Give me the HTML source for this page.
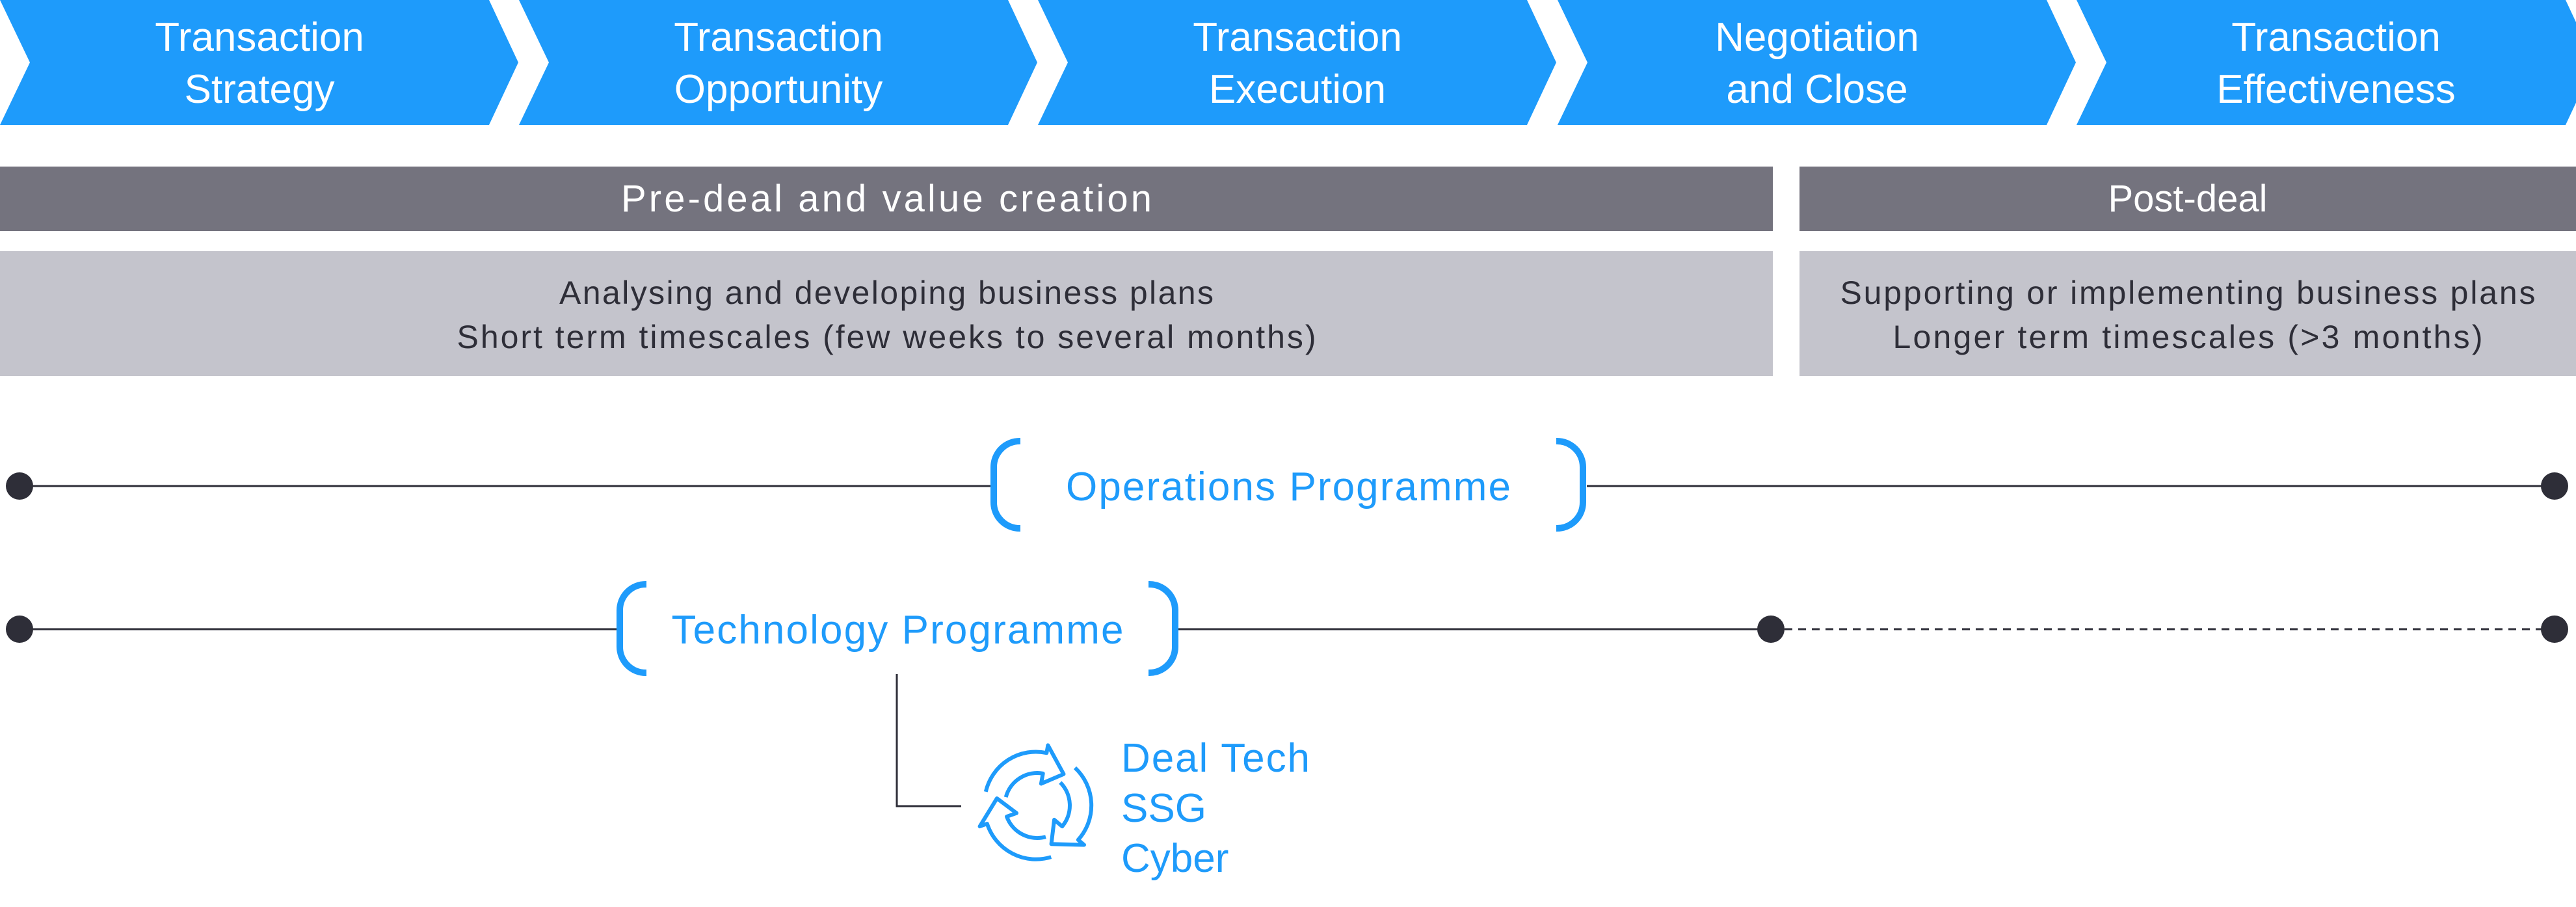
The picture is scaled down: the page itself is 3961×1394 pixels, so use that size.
<!DOCTYPE html>
<html><head><meta charset="utf-8"><style>
html,body{margin:0;padding:0;background:#fff;}
svg{display:block;}
text{font-family:"Liberation Sans",sans-serif;}
</style></head><body>
<svg width="3961" height="1394" viewBox="0 0 3961 1394" xmlns="http://www.w3.org/2000/svg">
<defs>
<polygon id="chev" points="0,0 752,0 797,96 752,192 0,192 46,96" fill="#1e9bfb"/>
</defs>
<use href="#chev" x="0"/>
<use href="#chev" x="798"/>
<use href="#chev" x="1596"/>
<use href="#chev" x="2395"/>
<use href="#chev" x="3193"/>
<g fill="#fff" font-size="62" text-anchor="middle">
<text x="399" y="78">Transaction</text><text x="399" y="158">Strategy</text>
<text x="1197" y="78">Transaction</text><text x="1197" y="158">Opportunity</text>
<text x="1995" y="78">Transaction</text><text x="1995" y="158">Execution</text>
<text x="2794" y="78">Negotiation</text><text x="2794" y="158">and Close</text>
<text x="3592" y="78">Transaction</text><text x="3592" y="158">Effectiveness</text>
</g>
<rect x="0" y="256" width="2726" height="99" fill="#74737e"/>
<rect x="2767" y="256" width="1194" height="99" fill="#74737e"/>
<g fill="#fff" font-size="58" text-anchor="middle">
<text x="1363" y="325" textLength="816">Pre-deal and value creation</text>
<text x="3364" y="325">Post-deal</text>
</g>
<rect x="0" y="386" width="2726" height="192" fill="#c4c4cc"/>
<rect x="2767" y="386" width="1194" height="192" fill="#c4c4cc"/>
<g fill="#2e2e38" font-size="50" text-anchor="middle">
<text x="1363" y="467" textLength="1006">Analysing and developing business plans</text>
<text x="1363" y="535" textLength="1321">Short term timescales (few weeks to several months)</text>
<text x="3364" y="467" textLength="1069">Supporting or implementing business plans</text>
<text x="3364" y="535" textLength="907">Longer term timescales (&gt;3 months)</text>
</g>
<!-- timeline 1 -->
<line x1="30" y1="747" x2="1524" y2="747" stroke="#2e2e38" stroke-width="3"/>
<line x1="2440" y1="747" x2="3928" y2="747" stroke="#2e2e38" stroke-width="3"/>
<circle cx="30" cy="747" r="21" fill="#2e2e38"/>
<circle cx="3928" cy="747" r="21" fill="#2e2e38"/>
<g fill="none" stroke="#1e9bfb" stroke-width="10">
<path d="M1569,678 L1568,678 A40,40 0 0 0 1528,718 L1528,772 A40,40 0 0 0 1568,812 L1569,812"/>
<path d="M2393,678 L2394,678 A40,40 0 0 1 2434,718 L2434,772 A40,40 0 0 1 2394,812 L2393,812"/>
</g>
<text x="1981" y="769" fill="#1e9bfb" font-size="62" text-anchor="middle" textLength="684">Operations Programme</text>
<!-- timeline 2 -->
<line x1="30" y1="967" x2="948" y2="967" stroke="#2e2e38" stroke-width="3"/>
<line x1="1811" y1="967" x2="2723" y2="967" stroke="#2e2e38" stroke-width="3"/>
<line x1="2723" y1="967" x2="3928" y2="967" stroke="#2e2e38" stroke-width="3" stroke-dasharray="12,9"/>
<circle cx="30" cy="967" r="21" fill="#2e2e38"/>
<circle cx="2723" cy="967" r="21" fill="#2e2e38"/>
<circle cx="3928" cy="967" r="21" fill="#2e2e38"/>
<g fill="none" stroke="#1e9bfb" stroke-width="10">
<path d="M994,898 L993,898 A40,40 0 0 0 953,938 L953,994 A40,40 0 0 0 993,1034 L994,1034"/>
<path d="M1766,898 L1767,898 A40,40 0 0 1 1807,938 L1807,994 A40,40 0 0 1 1767,1034 L1766,1034"/>
</g>
<text x="1380" y="989" fill="#1e9bfb" font-size="62" text-anchor="middle" textLength="695">Technology Programme</text>
<!-- connector -->
<polyline points="1379,1036 1379,1239 1478,1239" fill="none" stroke="#2e2e38" stroke-width="3"/>
<!-- icon -->
<g transform="translate(1500,1143)" fill="none" stroke="#1e9bfb" stroke-width="6" stroke-linejoin="round">
<path id="seg" d="M15.8,73.8 A79,79 0 0 1 109.3,14.2 L111.4,2.4 L135.5,46.7 L100.9,61.5 L103.7,45.8 A50,50 0 0 0 46.7,82.1"/>
<use href="#seg" transform="rotate(120 95 95)"/>
<use href="#seg" transform="rotate(240 95 95)"/>
</g>
<g fill="#1e9bfb" font-size="62">
<text x="1724" y="1186" textLength="290">Deal Tech</text>
<text x="1724" y="1263">SSG</text>
<text x="1724" y="1340">Cyber</text>
</g>
</svg>
</body></html>
